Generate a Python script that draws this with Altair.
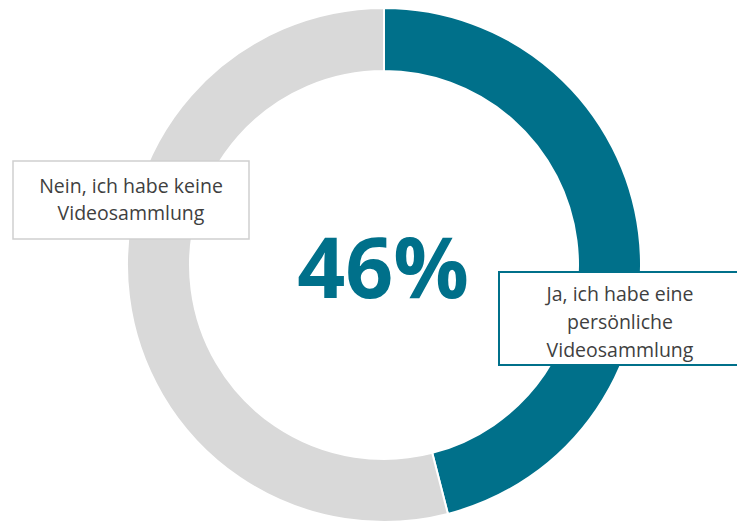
import altair as alt
import pandas as pd

categories = ["Ja, ich habe eine persönliche Videosammlung", "Nein, ich habe keine Videosammlung"]
values = [46, 54]
order = [0, 1]
colors = ["#00708A", "#D9D9D9"]
center_label = "46%"
label_nein = ["Nein, ich habe keine", "Videosammlung"]
label_ja = ["Ja, ich habe eine", "persönliche", "Videosammlung"]

df = pd.DataFrame({"cat": categories, "val": values, "ord": order})

W, H = 729, 515
CX, CY = 376, 257

donut = alt.Chart(df).mark_arc(outerRadius=257, innerRadius=194, stroke="white", strokeWidth=2).encode(
    theta=alt.Theta("val:Q", stack=True),
    order=alt.Order("ord:Q"),
    color=alt.Color("cat:N", scale=alt.Scale(domain=categories, range=colors), legend=None),
    x=alt.value(CX),
    y=alt.value(CY),
)

one = pd.DataFrame({"a": [0]})

big = alt.Chart(one).mark_text(
    font="Open Sans", fontWeight="bold", fontSize=84, color="#00708A", baseline="alphabetic", align="center"
).encode(x=alt.value(CX - 1), y=alt.value(290), text=alt.value(center_label))

box_nein = alt.Chart(one).mark_rect(fill="white", stroke="#D0D0D0", strokeWidth=1.5).encode(
    x=alt.value(5), x2=alt.value(241), y=alt.value(153), y2=alt.value(231)
)
text_nein = alt.Chart(one).mark_text(
    font="Open Sans", fontSize=19.5, color="#3F3F3F", align="center", baseline="middle", lineHeight=27
).encode(x=alt.value(123), y=alt.value(179), text=alt.value(label_nein))

box_ja = alt.Chart(one).mark_rect(fill="white", stroke="#00708A", strokeWidth=2).encode(
    x=alt.value(491), x2=alt.value(760), y=alt.value(264), y2=alt.value(357)
)
text_ja = alt.Chart(one).mark_text(
    font="Open Sans", fontSize=19.5, color="#3F3F3F", align="center", baseline="middle", lineHeight=28
).encode(x=alt.value(612), y=alt.value(287), text=alt.value(label_ja))

chart = alt.layer(donut, big, box_nein, text_nein, box_ja, text_ja).properties(
    width=W, height=H, padding=0, autosize=alt.AutoSizeParams(type="none")
).configure_view(stroke=None)

chart.save("out.html", embed_options={"renderer": "svg", "actions": False})
